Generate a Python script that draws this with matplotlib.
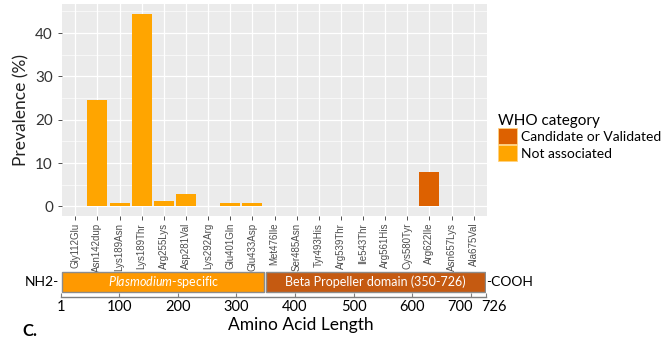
import numpy as np
import matplotlib
matplotlib.use("Agg")
import matplotlib.pyplot as plt
import matplotlib.transforms as mtransforms
from matplotlib.patches import Patch, Rectangle

plt.rcParams['font.family'] = ['Lato', 'DejaVu Sans']
plt.rcParams['mathtext.fontset'] = 'custom'
plt.rcParams['mathtext.it'] = 'Lato:italic'
plt.rcParams['mathtext.rm'] = 'Lato'

mutations = ["Gly112Glu", "Asn142dup", "Lys189Asn", "Lys189Thr", "Arg255Lys",
             "Asp281Val", "Lys292Arg", "Glu401Gln", "Glu433Asp", "Met476Ile",
             "Ser485Asn", "Tyr493His", "Arg539Thr", "Ile543Thr", "Arg561His",
             "Cys580Tyr", "Arg622Ile", "Asn657Lys", "Ala675Val"]
prevalence = [0, 24.6, 0.7, 44.5, 1.3, 2.8, 0, 0.8, 0.8, 0,
              0, 0, 0, 0, 0, 0, 7.9, 0, 0]
who_cat = ["Not associated"] * 16 + ["Candidate or Validated"] + ["Not associated"] * 2

cat_colors = {"Candidate or Validated": "#DD6100", "Not associated": "#FFA500"}

domains = [(1, 350, "$\\it{Plasmodium}$-specific", "#FF9900"),
           (350, 726, "Beta Propeller domain (350-726)", "#C55A11")]
length_ticks = [1, 100, 200, 300, 400, 500, 600, 700, 726]

W, H = 670, 339
fig = plt.figure(figsize=(W / 100, H / 100), dpi=100)

# --- bar chart (ggplot-like) ---
ax = fig.add_axes([62 / W, 1 - 216 / H, 425 / W, 212 / H])
ax.set_facecolor("#EBEBEB")
x = np.arange(len(mutations))
cols = [cat_colors[c] for c in who_cat]
ax.bar(x, prevalence, width=0.9, color=cols, zorder=3)
ax.set_xlim(-0.6, len(mutations) - 0.4)
ymax = max(prevalence)
ax.set_ylim(-0.05 * ymax, 1.05 * ymax)
ax.set_yticks([0, 10, 20, 30, 40])
ax.set_yticks([5, 15, 25, 35, 45], minor=True)
ax.set_xticks(x)
ax.set_xticklabels(mutations, rotation=90, fontsize=7, color="#4D4D4D",
                   family=['Liberation Sans'])
ax.tick_params(axis='y', labelsize=11, colors="#333333", length=3, width=0.6)
ax.tick_params(axis='y', which='minor', length=0)
ax.tick_params(axis='x', length=3, width=0.6, colors="#333333", pad=2)
for lbl in ax.get_xticklabels():
    lbl.set_color("#4D4D4D")
ax.grid(True, which='major', color="white", linewidth=0.9, zorder=0)
ax.grid(True, which='minor', axis='y', color="white", linewidth=0.45, zorder=0)
for s in ax.spines.values():
    s.set_visible(False)
ax.set_ylabel("Prevalence (%)", fontsize=12.5, color="#222222", labelpad=4)

handles = [Patch(facecolor=cat_colors[k], edgecolor="#FFD27F", linewidth=0.6, label=k)
           for k in ["Candidate or Validated", "Not associated"]]
leg = fig.legend(handles=handles, title="WHO category", loc="upper left",
                 bbox_to_anchor=(488 / W, 1 - 104 / H), frameon=False,
                 fontsize=10, title_fontsize=11, handlelength=1.4, handleheight=1.4,
                 handletextpad=0.25, labelspacing=0.05, borderpad=0.2)
leg._legend_box.align = "left"

# --- domain diagram ---
dx0, dx1 = 61, 486
dax = fig.add_axes([dx0 / W, 1 - 297 / H, (dx1 - dx0) / W, 27 / H])
dax.set_xlim(1, 726)
dax.set_ylim(0, 1)
for start, end, name, col in domains:
    dax.add_patch(Rectangle((start + 1, 0.2), end - start - 3, 0.74, facecolor=col,
                            edgecolor="#8C8C8C", linewidth=1.0))
    dax.text((start + end) / 2, 0.57, name, color="white", fontsize=9,
             ha="center", va="center")
dax.set_yticks([])
for s in ["left", "right", "top"]:
    dax.spines[s].set_visible(False)
dax.spines["bottom"].set_color("#7F7F7F")
dax.spines["bottom"].set_linewidth(1.0)
dax.set_xticks(length_ticks)
dax.set_xticklabels([str(t) for t in length_ticks], fontsize=10.5)
dax.tick_params(axis='x', direction='in', length=3, color="#7F7F7F", pad=2)
# nudge the two last labels apart so 700 and 726 do not collide
tl = dax.get_xticklabels()
tl[-2].set_transform(tl[-2].get_transform() +
                     mtransforms.ScaledTranslation(-8 / 72, 0, fig.dpi_scale_trans))
tl[-1].set_transform(tl[-1].get_transform() +
                     mtransforms.ScaledTranslation(6 / 72, 0, fig.dpi_scale_trans))
dax.set_facecolor("none")
dax.text(-2, 0.57, "NH2-", ha="right", va="center", fontsize=10)
dax.text(726, 0.57, "-COOH", ha="left", va="center", fontsize=10)

fig.text(301 / W, 1 - 325 / H, "Amino Acid Length", ha="center", va="center", fontsize=12.5)
fig.text(22 / W, 1 - 331 / H, "C.", ha="left", va="center", fontsize=12, fontweight="bold")

fig.savefig("out.png", dpi=100)
